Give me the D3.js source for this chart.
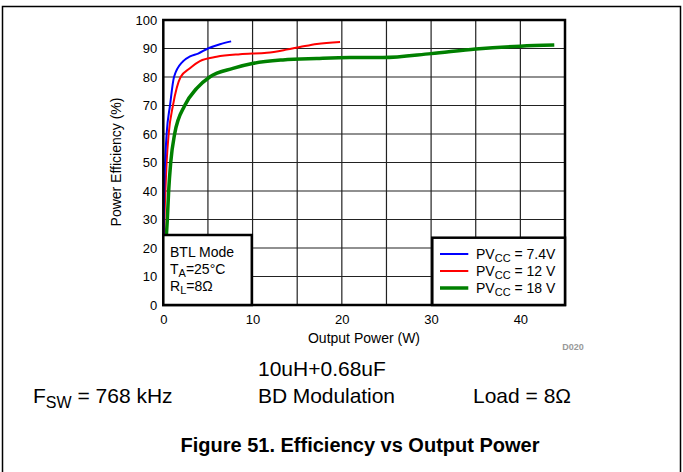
<!DOCTYPE html>
<html><head><meta charset="utf-8">
<script src="https://cdn.jsdelivr.net/npm/d3@7"></script>
<style>body{margin:0;background:#fff}svg{display:block}text{font-family:"Liberation Sans",Arial,sans-serif}</style>
</head><body>
<svg id="c" width="683" height="472"></svg>
<script>
const xTicks = [0, 10, 20, 30, 40];
const yTicks = [0, 10, 20, 30, 40, 50, 60, 70, 80, 90, 100];
const seriesNames = ["7.4V", "12 V", "18 V"];
const blue74 = [[0.02,22],[0.05,30],[0.1,40],[0.2,50],[0.37,60],[0.75,70],[1.2,80],[2.2,85.5],[3.0,87.2],[3.9,88.2],[5.0,90],[6.35,91.5],[7.6,92.5]];
const red12 = [[0.05,22],[0.12,30],[0.23,40],[0.37,50],[0.6,60],[1.08,70],[1.94,80],[2.95,83],[4.1,85.6],[5.97,87.1],[8.6,88],[11.6,88.5],[13.8,89.6],[15.3,90.5],[17.2,91.6],[19.8,92.3]];
const green18 = [[0.3,22],[0.45,30],[0.6,40],[0.83,50],[1.27,60],[2.4,70],[3.74,76],[5.2,80],[7.8,83],[10.1,84.8],[13.4,86],[17.2,86.5],[20.9,86.8],[24.6,86.8],[30,88.2],[35,89.8],[40,90.8],[43.8,91.2]];

const svg = d3.select("#c");
// outer frame
svg.append("path").attr("d","M2.5,472 V6.5 H680.5 V472").attr("fill","none").attr("stroke","#000").attr("stroke-width",1.5);

const x = d3.scaleLinear().domain([0,45]).range([163.3,565]);
const y = d3.scaleLinear().domain([0,100]).range([305,20]);

const g = svg.append("g");
// grid
g.selectAll(".vg").data(d3.range(5,45,5)).enter().append("line")
  .attr("x1",d=>x(d)).attr("x2",d=>x(d)).attr("y1",y(0)).attr("y2",y(100))
  .attr("stroke","#222").attr("stroke-width",1.2);
g.selectAll(".hg").data(d3.range(10,100,10)).enter().append("line")
  .attr("y1",d=>y(d)).attr("y2",d=>y(d)).attr("x1",x(0)).attr("x2",x(45))
  .attr("stroke","#222").attr("stroke-width",1.2);

// curves
const line = d3.line().x(d=>x(d[0])).y(d=>y(d[1])).curve(d3.curveMonotoneX);
const series = [
  {data: green18, color:"#008000", w:3.5},
  {data: red12, color:"#ff0000", w:2},
  {data: blue74, color:"#0000ff", w:2}
];
series.forEach(s=>{
  g.append("path").attr("d",line(s.data)).attr("fill","none").attr("stroke",s.color).attr("stroke-width",s.w);
});

// plot border
g.append("rect").attr("x",x(0)).attr("y",y(100)).attr("width",x(45)-x(0)).attr("height",y(0)-y(100))
  .attr("fill","none").attr("stroke","#000").attr("stroke-width",2.5);

// axes
const ya = svg.append("g").attr("transform",`translate(${x(0)},0)`)
  .call(d3.axisLeft(y).tickValues(yTicks).tickSize(0).tickPadding(6));
ya.select(".domain").remove();
ya.selectAll("text").attr("font-size",13).attr("font-family","Liberation Sans, Arial, sans-serif").attr("fill","#000");
const xa = svg.append("g").attr("transform",`translate(0,${y(0)})`)
  .call(d3.axisBottom(x).tickValues(xTicks).tickSize(0).tickPadding(10));
xa.select(".domain").remove();
xa.selectAll("text").attr("font-size",13).attr("font-family","Liberation Sans, Arial, sans-serif").attr("fill","#000");

svg.append("text").attr("x",364).attr("y",343).attr("text-anchor","middle").attr("font-size",14).text("Output Power (W)");
svg.append("text").attr("transform","translate(121,162) rotate(-90)").attr("text-anchor","middle").attr("font-size",14).text("Power Efficiency (%)");
svg.append("text").attr("x",573).attr("y",350).attr("text-anchor","middle").attr("font-size",9).attr("font-weight","bold").attr("fill","#999").text("D020");

// condition box
svg.append("rect").attr("x",x(0)).attr("y",235).attr("width",88.5).attr("height",y(0)-235)
  .attr("fill","#fff").attr("stroke","#000").attr("stroke-width",2.5);
const cb = svg.append("g").attr("font-size",14);
cb.append("text").attr("x",170).attr("y",257).text("BTL Mode");
const t2 = cb.append("text").attr("x",170).attr("y",274);
t2.append("tspan").text("T");
t2.append("tspan").attr("font-size",11).attr("dy",3).text("A");
t2.append("tspan").attr("dy",-3).text("=25°C");
const t3 = cb.append("text").attr("x",170).attr("y",291);
t3.append("tspan").text("R");
t3.append("tspan").attr("font-size",11).attr("dy",3).text("L");
t3.append("tspan").attr("dy",-3).text("=8Ω");

// legend
svg.append("rect").attr("x",432.3).attr("y",237.7).attr("width",x(45)-432.3).attr("height",y(0)-237.7)
  .attr("fill","#fff").attr("stroke","#000").attr("stroke-width",2.5);
const legColors = ["#0000ff","#ff0000","#008000"];
const legW = [2,2,3.5];
seriesNames.forEach((n,i)=>{
  const ly = 254 + i*17;
  svg.append("line").attr("x1",440).attr("x2",468.3).attr("y1",ly).attr("y2",ly).attr("stroke",legColors[i]).attr("stroke-width",legW[i]);
  const t = svg.append("text").attr("x",476).attr("y",ly+5).attr("font-size",14);
  t.append("tspan").text("PV");
  t.append("tspan").attr("font-size",11).attr("dy",3).text("CC");
  t.append("tspan").attr("dy",-3).text(" = " + n);
});

// bottom texts
const bt = svg.append("g").attr("font-size",21);
bt.append("text").attr("x",258).attr("y",376).text("10uH+0.68uF");
const f = bt.append("text").attr("x",33).attr("y",403);
f.append("tspan").text("F");
f.append("tspan").attr("font-size",16).attr("dy",5).text("SW");
f.append("tspan").attr("dy",-5).text(" = 768 kHz");
bt.append("text").attr("x",258).attr("y",403).attr("textLength",137).text("BD Modulation");
bt.append("text").attr("x",473).attr("y",403).text("Load = 8Ω");
svg.append("text").attr("x",360).attr("y",452).attr("text-anchor","middle").attr("font-size",20).attr("font-weight","bold").text("Figure 51. Efficiency vs Output Power");
</script>
</body></html>
